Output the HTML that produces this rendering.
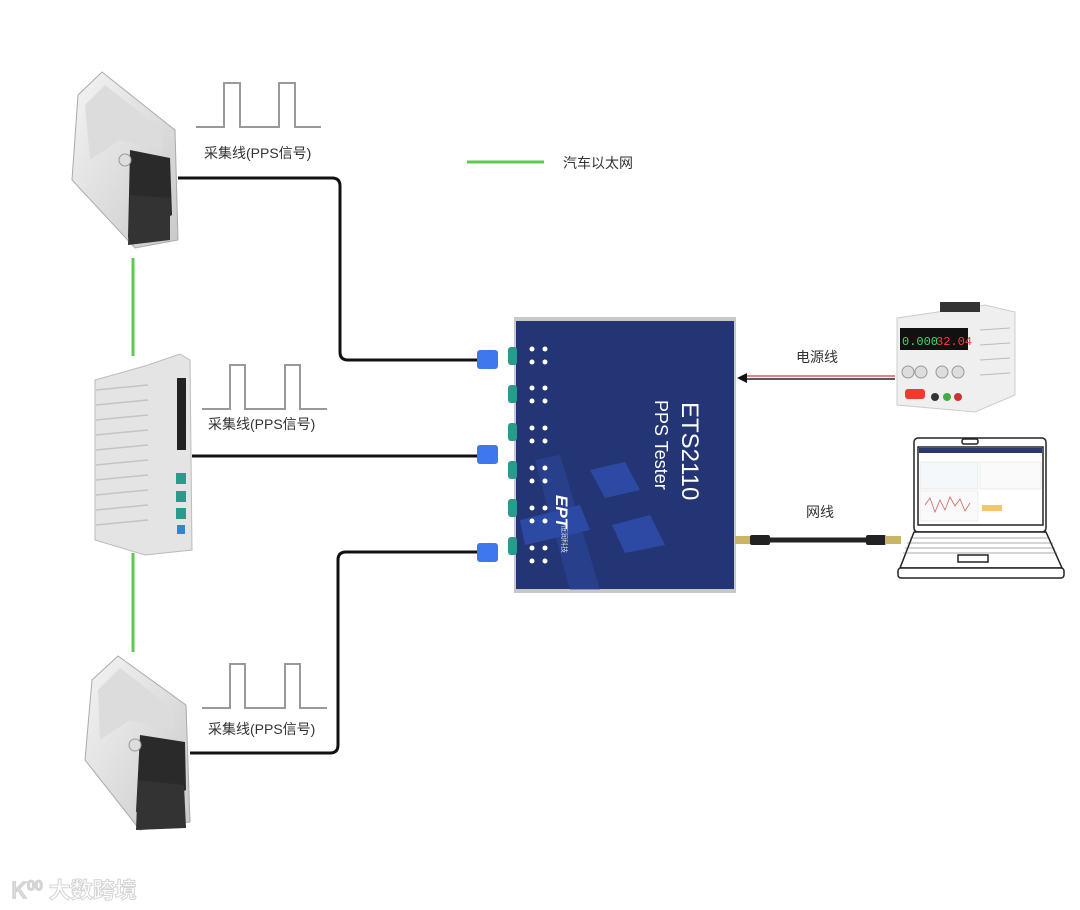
<!DOCTYPE html>
<html><head><meta charset="utf-8"><style>
html,body{margin:0;padding:0;background:#fff;}
svg{display:block;font-family:"Liberation Sans","Noto Sans CJK SC",sans-serif;}
</style></head><body>
<svg width="1080" height="910" viewBox="0 0 1080 910" xmlns="http://www.w3.org/2000/svg">
<defs>
<linearGradient id="metal" x1="0" y1="0" x2="1" y2="1"><stop offset="0" stop-color="#f4f4f4"/><stop offset="1" stop-color="#c9c9c9"/></linearGradient>
</defs>
<line x1="133" y1="258" x2="133" y2="356" stroke="#5cc94f" stroke-width="3"/>
<line x1="133" y1="553" x2="133" y2="652" stroke="#5cc94f" stroke-width="3"/>
<line x1="467" y1="162" x2="544" y2="162" stroke="#5cc94f" stroke-width="3"/>
<text x="563" y="168" font-size="14" fill="#333">汽车以太网</text>

<g fill="none" stroke="#999" stroke-width="2">
<path d="M196 127H224V83H240V127H279V83H295V127H321"/>
<path d="M202 409H230V365H245V409H285V365H300V409H327"/>
<path d="M202 708H230V664H245V708H285V664H300V708H327"/>
</g>
<g font-size="14" fill="#333">
<text x="204" y="158">采集线(PPS信号)</text>
<text x="208" y="429">采集线(PPS信号)</text>
<text x="208" y="734">采集线(PPS信号)</text>
</g>

<g fill="none" stroke="#111" stroke-width="3">
<path d="M178 178H332Q340 178 340 186V352Q340 360 348 360H480"/>
<path d="M192 456H480"/>
<path d="M190 753H330Q338 753 338 745V560Q338 552 346 552H480"/>
</g>
<g fill="#3f78ee">
<rect x="477" y="350" width="21" height="19" rx="3"/>
<rect x="477" y="445" width="21" height="19" rx="3"/>
<rect x="477" y="543" width="21" height="19" rx="3"/>
</g>

<g>
<path d="M78 95L102 72L175 130L178 240L135 248L72 180Z" fill="url(#metal)" stroke="#aaa"/>
<path d="M85 105L105 85L160 128L162 150L120 140L90 160Z" fill="#dcdcdc"/>
<path d="M130 150L170 158L172 215L128 238Z" fill="#2a2a2a"/>
<path d="M130 195L170 198L170 240L128 245Z" fill="#333"/>
<circle cx="125" cy="160" r="6" fill="#ddd" stroke="#999"/>
</g>
<g>
<path d="M92 680L118 656L186 705L190 822L140 830L85 760Z" fill="url(#metal)" stroke="#aaa"/>
<path d="M98 690L120 668L172 708L175 730L130 720L100 740Z" fill="#dcdcdc"/>
<path d="M140 735L185 742L186 790L136 812Z" fill="#2a2a2a"/>
<path d="M138 780L184 785L186 828L136 830Z" fill="#333"/>
<circle cx="135" cy="745" r="6" fill="#ddd" stroke="#999"/>
</g>
<g>
<path d="M95 380L145 366L180 354L190 360L192 550L145 555L95 540Z" fill="#e4e4e4" stroke="#bbb"/>
<g stroke="#c4c4c4" stroke-width="1.5">
<line x1="96" y1="390" x2="148" y2="385"/><line x1="96" y1="405" x2="148" y2="400"/><line x1="96" y1="420" x2="148" y2="415"/>
<line x1="96" y1="435" x2="148" y2="430"/><line x1="96" y1="450" x2="148" y2="445"/><line x1="96" y1="465" x2="148" y2="460"/>
<line x1="96" y1="480" x2="148" y2="475"/><line x1="96" y1="495" x2="148" y2="490"/><line x1="96" y1="510" x2="148" y2="505"/>
<line x1="96" y1="525" x2="148" y2="520"/>
</g>
<rect x="177" y="378" width="9" height="72" fill="#222"/>
<rect x="176" y="473" width="10" height="11" fill="#2a9a8a"/>
<rect x="176" y="491" width="10" height="11" fill="#2a9a8a"/>
<rect x="176" y="508" width="10" height="11" fill="#2a9a8a"/>
<rect x="177" y="525" width="8" height="9" fill="#2a8ad0"/>
</g>

<rect x="514" y="317" width="222" height="276" fill="#c8c8c8"/>
<rect x="516" y="321" width="218" height="268" fill="#233574"/>
<g fill="#2f4fb0" opacity="0.8">
<path d="M590 470L625 462L640 490L605 498Z"/>
<path d="M612 525L650 515L665 545L625 553Z"/>
<path d="M535 460L560 455L600 590L570 590Z" opacity="0.5"/>
<path d="M520 520L580 505L590 530L525 545Z"/>
</g>
<g fill="#2a9a8a">
<rect x="508" y="347" width="9" height="18" rx="3"/><rect x="508" y="385" width="9" height="18" rx="3"/>
<rect x="508" y="423" width="9" height="18" rx="3"/><rect x="508" y="461" width="9" height="18" rx="3"/>
<rect x="508" y="499" width="9" height="18" rx="3"/><rect x="508" y="537" width="9" height="18" rx="3"/>
</g>
<g fill="#fff">
<circle cx="532" cy="349" r="2.5"/><circle cx="545" cy="349" r="2.5"/><circle cx="532" cy="362" r="2.5"/><circle cx="545" cy="362" r="2.5"/>
<circle cx="532" cy="388" r="2.5"/><circle cx="545" cy="388" r="2.5"/><circle cx="532" cy="401" r="2.5"/><circle cx="545" cy="401" r="2.5"/>
<circle cx="532" cy="428" r="2.5"/><circle cx="545" cy="428" r="2.5"/><circle cx="532" cy="441" r="2.5"/><circle cx="545" cy="441" r="2.5"/>
<circle cx="532" cy="468" r="2.5"/><circle cx="545" cy="468" r="2.5"/><circle cx="532" cy="481" r="2.5"/><circle cx="545" cy="481" r="2.5"/>
<circle cx="532" cy="508" r="2.5"/><circle cx="545" cy="508" r="2.5"/><circle cx="532" cy="521" r="2.5"/><circle cx="545" cy="521" r="2.5"/>
<circle cx="532" cy="548" r="2.5"/><circle cx="545" cy="548" r="2.5"/><circle cx="532" cy="561" r="2.5"/><circle cx="545" cy="561" r="2.5"/>
</g>
<text transform="translate(682,402) rotate(90)" font-size="24" fill="#fff">ETS2110</text>
<text transform="translate(655,400) rotate(90)" font-size="18" fill="#fff">PPS Tester</text>
<text transform="translate(556,495) rotate(90)" font-size="17" font-weight="bold" fill="#fff" font-style="italic">EPT</text>
<text transform="translate(562,525) rotate(90)" font-size="7" fill="#ddd">恒润科技</text>

<line x1="745" y1="376" x2="895" y2="376" stroke="#f08080" stroke-width="2"/>
<line x1="745" y1="379" x2="895" y2="379" stroke="#222" stroke-width="1.5"/>
<path d="M737 378L747 373L747 383Z" fill="#111"/>
<text x="796" y="362" font-size="14" fill="#333">电源线</text>

<g>
<path d="M897 318L985 305L1015 312L1015 395L975 412L897 405Z" fill="#efefef" stroke="#ccc"/>
<rect x="940" y="302" width="40" height="10" fill="#333"/>
<g stroke="#bbb" stroke-width="1"><line x1="980" y1="330" x2="1010" y2="328"/><line x1="980" y1="345" x2="1010" y2="343"/><line x1="980" y1="360" x2="1010" y2="358"/><line x1="980" y1="375" x2="1010" y2="373"/></g>
<rect x="900" y="328" width="68" height="22" fill="#111"/>
<text x="902" y="345" font-size="12" fill="#3ddc6a" font-family="Liberation Mono,monospace">0.000</text>
<text x="936" y="345" font-size="12" fill="#ff3b3b" font-family="Liberation Mono,monospace">32.04</text>
<circle cx="908" cy="372" r="6" fill="#ddd" stroke="#999"/><circle cx="921" cy="372" r="6" fill="#ddd" stroke="#999"/>
<circle cx="942" cy="372" r="6" fill="#ddd" stroke="#999"/><circle cx="958" cy="372" r="6" fill="#ddd" stroke="#999"/>
<rect x="905" y="389" width="20" height="10" rx="3" fill="#ee3b2b"/>
<circle cx="935" cy="397" r="4" fill="#333"/><circle cx="947" cy="397" r="4" fill="#4a4"/><circle cx="958" cy="397" r="4" fill="#c33"/>
</g>

<rect x="735" y="536" width="16" height="8" fill="#c9b46a"/>
<rect x="750" y="535" width="20" height="10" rx="2" fill="#222"/>
<line x1="770" y1="540" x2="867" y2="540" stroke="#222" stroke-width="5"/>
<rect x="866" y="535" width="20" height="10" rx="2" fill="#222"/>
<rect x="885" y="536" width="16" height="8" fill="#c9b46a"/>
<text x="806" y="517" font-size="14" fill="#333">网线</text>

<g fill="none" stroke="#222" stroke-width="1.5">
<rect x="914" y="438" width="132" height="94" rx="4" fill="#fff"/>
<rect x="918" y="447" width="125" height="78" fill="#fff"/>
<path d="M914 532L900 568H1062L1046 532Z" fill="#fff"/>
<rect x="898" y="568" width="166" height="10" rx="3" fill="#fff"/>
<rect x="958" y="555" width="30" height="7"/>
<rect x="962" y="439" width="16" height="5" rx="2"/>
</g>
<rect x="919" y="448" width="123" height="5" fill="#2b3a6a"/>
<rect x="920" y="462" width="58" height="27" fill="#f4f8fa" stroke="#ddd" stroke-width=".5"/>
<rect x="980" y="462" width="61" height="27" fill="#fafafa" stroke="#ddd" stroke-width=".5"/>
<rect x="920" y="491" width="58" height="30" fill="#fafafa" stroke="#ddd" stroke-width=".5"/>
<path d="M925 505L930 498L935 512L940 500L945 510L950 497L955 506L960 499L965 511L970 503" fill="none" stroke="#c66" stroke-width=".8"/>
<rect x="982" y="505" width="20" height="6" fill="#f6c46a"/>
<g stroke="#555" stroke-width=".6">
<line x1="910" y1="538" x2="1050" y2="538"/><line x1="907" y1="543" x2="1053" y2="543"/><line x1="905" y1="548" x2="1055" y2="548"/><line x1="903" y1="553" x2="1057" y2="553"/>
</g>

<text x="12" y="898" font-size="22" font-weight="bold" fill="#fff" stroke="#d4d4d4" stroke-width="1">Ꮶ⁰⁰ 大数跨境</text>
</svg>
</body></html>
